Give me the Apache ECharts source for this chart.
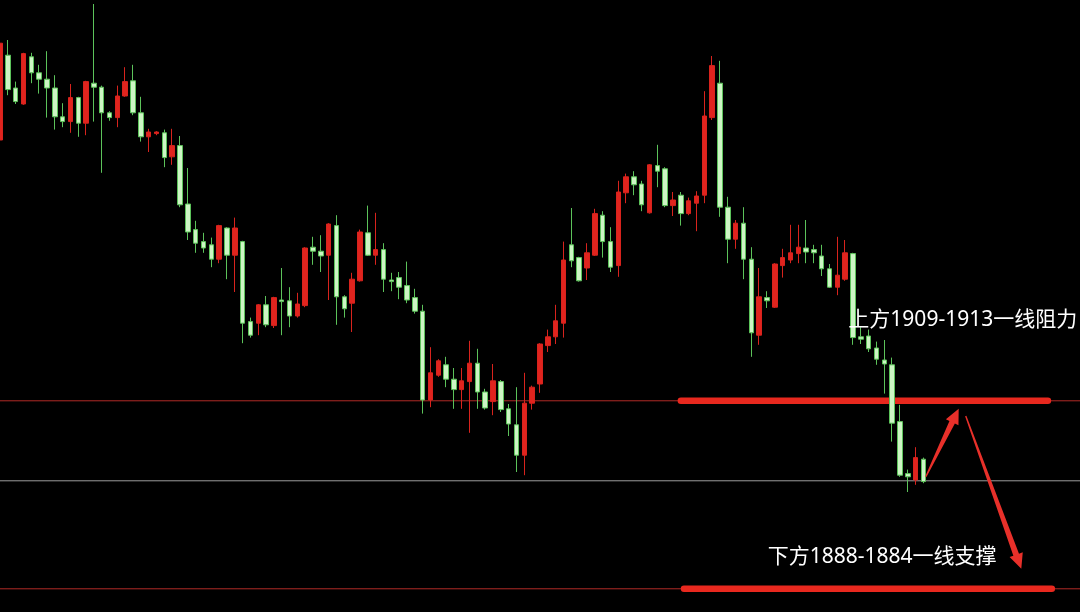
<!DOCTYPE html>
<html><head><meta charset="utf-8">
<script src="https://cdn.jsdelivr.net/npm/echarts@6/dist/echarts.min.js"></script>
<style>html,body{margin:0;padding:0;background:#000}#c{width:1080px;height:612px}</style>
</head><body><div id="c"></div><script>
// [open, close, low, high]
const candles = [
[1943.5,1955.6,1942.0,1955.8],[1954.1,1949.8,1949.1,1956.0],[1950.0,1948.3,1948.0,1950.8],[1948.0,1954.3,1947.9,1954.4],
[1953.9,1951.9,1950.6,1954.4],[1951.9,1951.1,1949.3,1952.9],[1951.1,1950.0,1946.3,1954.6],[1950.0,1946.4,1944.8,1951.6],
[1946.4,1945.8,1945.1,1948.1],[1945.8,1948.8,1944.4,1950.5],[1948.8,1945.6,1943.9,1948.9],[1945.6,1950.8,1944.1,1950.9],
[1950.6,1950.1,1945.8,1960.5],[1950.1,1946.9,1939.4,1950.3],[1946.9,1946.3,1945.9,1947.1],[1946.3,1949.0,1945.1,1950.3],
[1949.0,1950.8,1948.9,1952.6],[1950.9,1946.9,1946.6,1952.9],[1946.9,1943.9,1943.3,1948.9],[1943.9,1944.5,1942.0,1944.9],
[1944.3,1944.5,1944.1,1944.6],[1944.4,1941.3,1940.1,1944.8],[1941.4,1942.8,1940.4,1944.9],[1942.8,1935.4,1935.1,1944.0],
[1935.5,1932.0,1931.0,1940.0],[1932.3,1930.6,1929.4,1933.4],[1930.8,1930.0,1929.4,1931.9],[1930.4,1928.6,1927.6,1931.3],
[1928.6,1932.8,1928.1,1932.9],[1932.5,1929.1,1926.1,1932.6],[1929.1,1932.5,1924.5,1933.8],[1930.8,1920.6,1918.1,1930.9],
[1920.8,1919.1,1918.8,1921.3],[1920.6,1922.9,1919.1,1923.0],[1922.9,1920.4,1920.1,1924.0],[1920.3,1923.8,1920.0,1923.9],
[1923.5,1923.3,1919.1,1927.5],[1923.4,1921.5,1920.1,1925.1],[1921.5,1923.0,1921.3,1924.4],[1922.8,1930.0,1922.6,1930.1],
[1930.1,1929.6,1927.9,1931.4],[1929.6,1929.0,1927.0,1931.6],[1929.1,1933.0,1923.5,1933.1],[1932.8,1923.9,1920.4,1934.1],
[1923.9,1922.4,1921.3,1924.1],[1923.1,1926.1,1919.5,1926.9],[1925.9,1932.0,1925.8,1932.3],[1931.9,1929.1,1929.0,1935.3],
[1929.1,1929.8,1927.9,1934.4],[1929.8,1926.1,1924.5,1930.6],[1926.0,1925.8,1924.6,1926.9],[1926.3,1925.1,1923.6,1927.0],
[1925.3,1923.5,1923.1,1928.3],[1923.8,1922.1,1921.8,1924.9],[1922.1,1911.0,1909.3,1922.9],[1911.0,1914.4,1910.1,1917.6],
[1914.1,1915.9,1913.9,1916.1],[1915.4,1913.6,1912.6,1916.4],[1913.6,1912.3,1909.9,1915.0],[1912.3,1913.4,1909.9,1915.0],
[1913.3,1915.6,1906.9,1918.4],[1915.6,1912.0,1909.9,1917.4],[1912.0,1910.0,1909.8,1912.4],[1910.8,1913.4,1909.1,1915.5],
[1913.3,1909.8,1909.5,1913.5],[1909.9,1908.0,1906.5,1910.5],[1907.9,1904.1,1902.0,1912.6],[1904.1,1910.6,1901.6,1914.4],
[1910.6,1912.6,1909.8,1912.8],[1913.0,1918.0,1911.9,1918.1],[1917.8,1918.9,1917.0,1919.8],[1918.9,1920.9,1918.0,1922.9],
[1920.6,1928.5,1918.8,1930.8],[1930.4,1928.4,1927.6,1935.0],[1928.8,1925.9,1925.8,1928.9],[1927.5,1929.4,1926.0,1930.6],
[1929.1,1934.3,1929.0,1934.9],[1934.1,1930.8,1928.8,1934.6],[1930.8,1927.6,1927.0,1932.6],[1927.8,1937.0,1926.4,1938.4],
[1936.9,1938.9,1935.6,1939.3],[1938.9,1937.9,1936.6,1939.6],[1938.0,1935.4,1934.6,1938.4],[1934.4,1940.4,1934.3,1940.5],
[1940.3,1939.6,1937.6,1942.9],[1939.9,1935.3,1935.1,1940.1],[1935.3,1936.0,1934.0,1937.0],[1936.6,1934.3,1932.8,1937.0],
[1934.3,1935.9,1934.1,1936.3],[1935.6,1936.5,1932.1,1937.1],[1936.6,1946.5,1935.6,1949.6],[1946.3,1952.8,1946.0,1954.0],
[1950.6,1935.1,1933.9,1953.4],[1935.1,1931.1,1928.1,1936.4],[1931.1,1933.1,1929.9,1933.5],[1933.1,1928.6,1926.1,1935.1],
[1928.6,1919.4,1916.4,1930.1],[1919.1,1923.9,1917.9,1927.5],[1923.8,1923.4,1922.5,1924.6],[1922.6,1928.0,1922.5,1928.1],
[1927.8,1928.8,1926.3,1929.9],[1928.5,1929.4,1928.1,1932.9],[1929.3,1930.1,1928.1,1932.9],[1930.0,1929.5,1928.1,1933.5],
[1929.8,1929.4,1928.1,1930.4],[1929.0,1927.4,1926.5,1930.4],[1927.4,1925.1,1925.0,1928.0],[1925.1,1926.6,1924.1,1931.4],
[1926.1,1929.4,1925.9,1931.0],[1929.3,1918.8,1917.9,1929.4],[1918.9,1918.6,1918.0,1920.1],[1919.0,1917.4,1917.0,1919.8],
[1917.5,1916.1,1915.4,1918.3],[1916.0,1915.5,1911.8,1918.5],[1915.4,1908.1,1905.8,1916.3],[1908.3,1901.6,1901.4,1910.4],
[1901.8,1901.4,1899.5,1902.3],[1901.0,1903.8,1900.4,1905.1],[1903.6,1900.8,1900.6,1903.8]
];
const emptySlots = 20;
const categories = Array.from({length: candles.length + emptySlots}, (_, i) => 'K' + (i + 1));
const levelResistance = 1910.9;
const levelCurrent = 1900.9;
const levelSupport = 1887.4;
// thick zone segments: [[xStart, price], [xEnd, price]] in slot units
const resistanceSegment = [[87.0, 1910.9], [133.9, 1910.9]];
const supportSegment = [[87.4, 1887.4], [134.4, 1887.4]];
// arrows: [xFrom, priceFrom, xTo, priceTo]
const arrows = [[118.3, 1901.4, 122.5, 1909.9], [123.4, 1909.0, 130.5, 1889.9]];
// notes: [xLeft, price, text]
const notes = [[108.4, 1921.0, '上方1909-1913一线阻力'], [98.1, 1891.4, '下方1888-1884一线支撑']];

const lastSlot = categories.length - 1;
const chart = echarts.init(document.getElementById('c'), null, {renderer: 'canvas'});
const fullLine = (p, color, z) => ({
  type: 'line', xAxisIndex: 1, yAxisIndex: 0, z: z, silent: true, symbol: 'none',
  data: [[0, p], [lastSlot, p]], lineStyle: {color: color, width: 1}, animation: false
});
const thick = (seg) => ({
  type: 'line', xAxisIndex: 1, yAxisIndex: 0, z: 2, silent: true, symbol: 'none',
  data: seg, lineStyle: {color: '#e8281e', width: 6.5, cap: 'round'}, animation: false
});
chart.setOption({
  backgroundColor: '#000000',
  animation: false,
  grid: {left: 0, right: 0, top: 0, bottom: 0},
  xAxis: [
    {type: 'category', data: categories, boundaryGap: false, show: false},
    {type: 'value', min: 0, max: lastSlot, show: false}
  ],
  yAxis: [{type: 'value', min: 1884.5, max: 1961, show: false, splitLine: {show: false}}],
  series: [
    fullLine(levelResistance, '#b02a26', 1),
    fullLine(levelCurrent, '#9c9c9c', 1),
    fullLine(levelSupport, '#b02a26', 1),
    thick(resistanceSegment),
    thick(supportSegment),
    {
      type: 'candlestick', xAxisIndex: 0, yAxisIndex: 0, z: 3, clip: false,
      data: candles, barWidth: 5,
      itemStyle: {
        color: '#e0241e', borderColor: '#d8231d',
        color0: '#cdf5c4', borderColor0: '#5cc25a', borderWidth: 1
      }
    },
    {
      type: 'custom', xAxisIndex: 1, yAxisIndex: 0, z: 5, silent: true,
      data: arrows, encode: {x: [0, 2], y: [1, 3]},
      renderItem: function (params, api) {
        const a = api.coord([api.value(0), api.value(1)]);
        const b = api.coord([api.value(2), api.value(3)]);
        const dx = b[0] - a[0], dy = b[1] - a[1];
        const L = Math.hypot(dx, dy), ux = dx / L, uy = dy / L, nx = -uy, ny = ux;
        const head = 15, hw = 7, w0 = 0.7, w1 = 3;
        const bx = b[0] - ux * head, by = b[1] - uy * head;
        const pts = [
          [a[0] + nx * w0, a[1] + ny * w0], [bx + nx * w1, by + ny * w1], [bx + nx * hw, by + ny * hw],
          [b[0], b[1]], [bx - nx * hw, by - ny * hw], [bx - nx * w1, by - ny * w1], [a[0] - nx * w0, a[1] - ny * w0]
        ];
        return {type: 'polygon', shape: {points: pts}, style: {fill: '#e8302a'}};
      }
    },
    {
      type: 'custom', xAxisIndex: 1, yAxisIndex: 0, z: 6, silent: true,
      data: notes.map(n => [n[0], n[1]]), encode: {x: 0, y: 1},
      renderItem: function (params, api) {
        const p = api.coord([api.value(0), api.value(1)]);
        return {
          type: 'text', x: p[0], y: p[1],
          style: {
            text: notes[params.dataIndex][2], fill: '#ffffff',
            font: '21px "Noto Sans", "Noto Sans CJK SC", sans-serif',
            align: 'left', verticalAlign: 'middle', textAlign: 'left', textVerticalAlign: 'middle'
          }
        };
      }
    }
  ]
});
</script></body></html>
